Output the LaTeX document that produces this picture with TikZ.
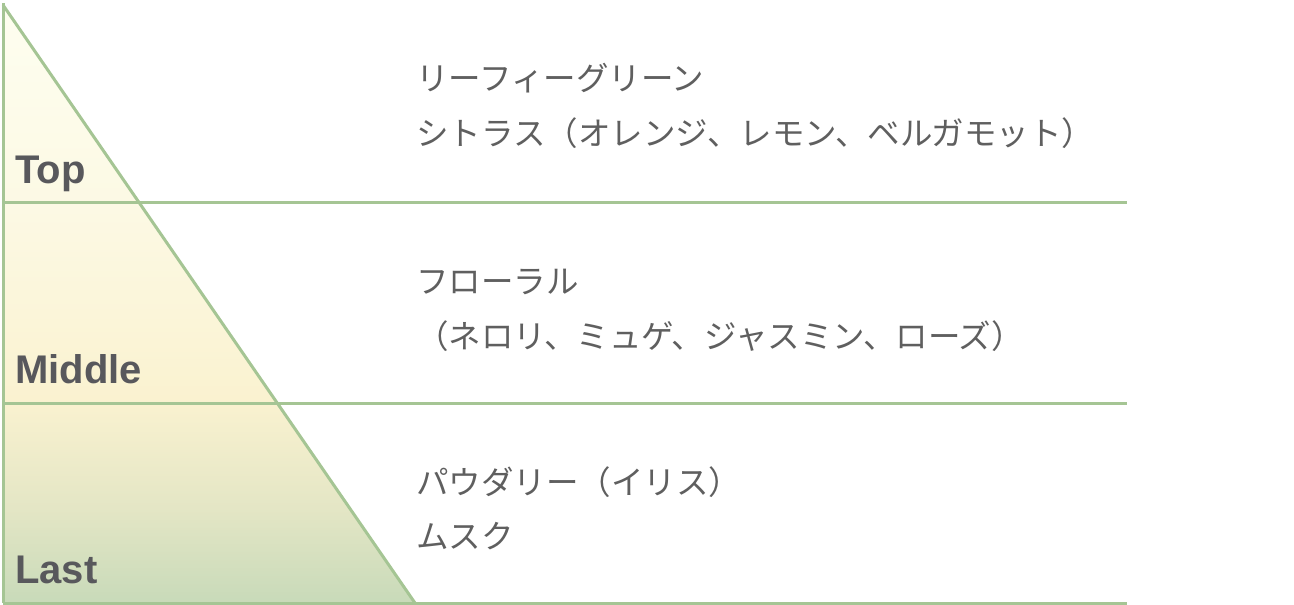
\documentclass[tikz,border=0pt]{standalone}
\usepackage{fontspec}
\setmainfont{Liberation Sans}
\newfontfamily\jp{Noto Sans CJK JP}
\definecolor{linegreen}{RGB}{165,197,148}
\definecolor{labelgray}{RGB}{88,88,92}
\definecolor{textgray}{RGB}{95,95,95}
\definecolor{shA}{RGB}{200,218,185}
\definecolor{shB}{RGB}{228,230,197}
\definecolor{shC}{RGB}{250,242,208}
\definecolor{shD}{RGB}{252,249,228}
\definecolor{shE}{RGB}{254,254,240}
\pgfdeclareverticalshading{pyrshade}{100bp}{color(0bp)=(shA); color(25bp)=(shA); color(33bp)=(shB); color(42bp)=(shC); color(58bp)=(shD); color(75bp)=(shE); color(100bp)=(shE)}
\tikzset{
  gline/.style={draw=linegreen, line width=3pt},
  level/.style={font=\fontsize{40}{44}\selectfont\bfseries, text=labelgray, anchor=base west, inner sep=0pt},
  note/.style={font=\jp\fontsize{32.5}{36}\selectfont, text=textgray, anchor=west, inner sep=0pt}
}
\begin{document}
\begin{tikzpicture}[x=1pt,y=-1pt]
\useasboundingbox (0,0) rectangle (1294,605);
% pyramid fill
\shade[shading=pyrshade] (3,5) -- (415,603) -- (3,603) -- cycle;
% lines
\coordinate (apex) at (3,3);
\coordinate (base) at (415,603);
\coordinate (bl) at (3,603);
\coordinate (br) at (1127,603);
\coordinate (l1a) at (3,202);
\coordinate (l1b) at (1127,202);
\coordinate (l2a) at (3,403);
\coordinate (l2b) at (1127,403);
\draw[gline] (apex) -- (bl);
\draw[gline] (3,5) -- (base);
\draw[gline] (l1a) -- (l1b);
\draw[gline] (l2a) -- (l2b);
\draw[gline] (bl) -- (br);
% labels
\node[level] (top) at (15,183) {Top};
\node[level] (mid) at (15,383) {Middle};
\node[level] (last) at (15,583) {Last};
% notes
\node[note] (t1) at (416,78) {リーフィーグリーン};
\node[note] (t2) at (416,133) {シトラス（オレンジ、レモン、ベルガモット）};
\node[note] (m1) at (416,282) {フローラル};
\node[note] (m2) at (416,336) {（ネロリ、ミュゲ、ジャスミン、ローズ）};
\node[note] (b1) at (416,482) {パウダリー（イリス）};
\node[note] (b2) at (416,536) {ムスク};
\end{tikzpicture}
\end{document}
